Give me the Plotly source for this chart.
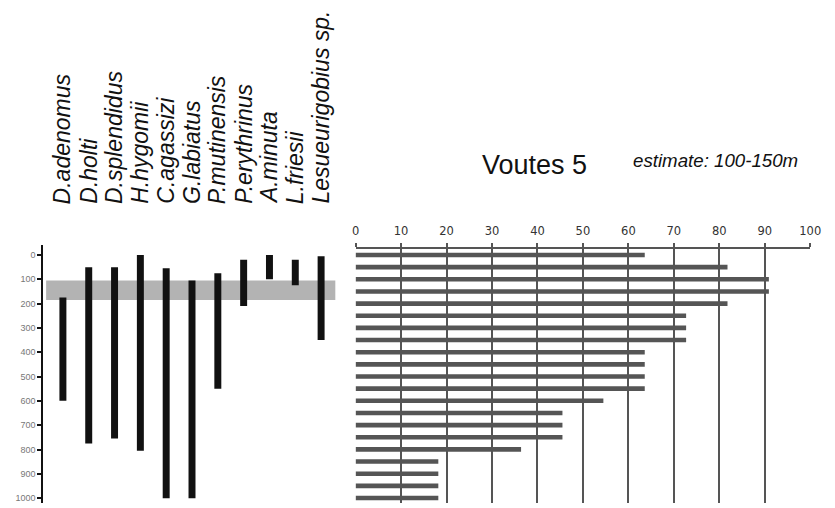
import plotly.graph_objects as go

# ---------------- data ----------------
species = ["D.adenomus", "D.holti", "D.splendidus", "H.hygomii", "C.agassizi",
           "G.labiatus", "P.mutinensis", "P.erythrinus", "A.minuta", "L.friesii",
           "Lesueurigobius sp."]
depth_min = [175, 50, 50, 0, 55, 105, 75, 20, 0, 20, 5]
depth_max = [600, 775, 755, 805, 1000, 1000, 550, 210, 100, 125, 350]

band_min, band_max = 105, 185

depth_bins = [0, 50, 100, 150, 200, 250, 300, 350, 400, 450, 500,
              550, 600, 650, 700, 750, 800, 850, 900, 950, 1000]
percent = [63.6, 81.8, 90.9, 90.9, 81.8, 72.7, 72.7, 72.7, 63.6, 63.6, 63.6,
           63.6, 54.5, 45.5, 45.5, 45.5, 36.4, 18.2, 18.2, 18.2, 18.2]

depth_ticks = [0, 100, 200, 300, 400, 500, 600, 700, 800, 900, 1000]
pct_ticks = [0, 10, 20, 30, 40, 50, 60, 70, 80, 90, 100]

title_text = "Voutes 5"
estimate_text = "estimate: 100-150m"

# ---------------- layout helpers ----------------
W, H = 835, 508
def fx(p):
    return p / W
def fy(p):
    return 1 - p / H

FONT = "Liberation Sans, Arial, sans-serif"

fig = go.Figure()

# left panel: depth ranges of species
fig.add_trace(go.Bar(
    x=list(range(len(species))),
    y=[b - a for a, b in zip(depth_min, depth_max)],
    base=depth_min,
    width=0.27,
    marker=dict(color="#111111", line=dict(width=0)),
    xaxis="x", yaxis="y", showlegend=False, hoverinfo="skip",
))

# right panel: percentage bars
fig.add_trace(go.Bar(
    x=percent, y=depth_bins, orientation="h",
    width=19,
    marker=dict(color="#555555", line=dict(width=0)),
    xaxis="x2", yaxis="y2", showlegend=False, hoverinfo="skip",
))

# gray band (estimate)
fig.add_shape(type="rect", xref="x", yref="y",
              x0=-0.65, x1=10.55, y0=band_min, y1=band_max,
              fillcolor="#b3b3b3", line=dict(width=0), layer="below")

annotations = []
for i, s in enumerate(species):
    annotations.append(dict(
        x=i, xref="x", y=fy(205), yref="paper", text=s, textangle=-90,
        xanchor="center", yanchor="bottom", showarrow=False, borderpad=0,
        font=dict(family=FONT, size=23, color="#111111", style="italic"),
    ))
annotations.append(dict(
    x=fx(540), y=fy(165), xref="paper", yref="paper", text=title_text,
    showarrow=False, xanchor="center", yanchor="middle",
    font=dict(family=FONT, size=27, color="#111111"),
))
annotations.append(dict(
    x=fx(725), y=fy(160), xref="paper", yref="paper", text=estimate_text,
    showarrow=False, xanchor="center", yanchor="middle",
    font=dict(family=FONT, size=18.7, color="#111111", style="italic"),
))

fig.update_layout(
    width=W, height=H,
    margin=dict(l=0, r=0, t=0, b=0),
    paper_bgcolor="white", plot_bgcolor="white",
    barmode="overlay",
    annotations=annotations,
    xaxis=dict(domain=[fx(40), fx(340)], range=[-0.76, 10.65], visible=False,
               anchor="y"),
    yaxis=dict(domain=[fy(503), fy(245)], range=[1020, -41], anchor="x",
               showgrid=False, zeroline=False, showline=True, linecolor="#111111",
               linewidth=2, ticks="outside", ticklen=4, tickwidth=1.5,
               tickcolor="#111111", tickvals=depth_ticks,
               ticktext=[str(t) for t in depth_ticks],
               ticklabeloverflow="allow",
               tickfont=dict(family=FONT, size=9, color="#777777")),
    xaxis2=dict(domain=[fx(358), fx(821)], range=[0, 100], anchor="y2",
                side="top", showgrid=True, gridcolor="#555555", gridwidth=2,
                zeroline=False, showline=True, linecolor="#555555", linewidth=2,
                ticks="outside", ticklen=4, tickwidth=2, tickcolor="#555555",
                tickvals=pct_ticks, ticktext=[str(t) for t in pct_ticks],
                ticklabeloverflow="allow", ticklabelstandoff=3,
                tickfont=dict(family="DejaVu Sans, sans-serif", size=11.5,
                              color="#333333")),
    yaxis2=dict(domain=[fy(503), fy(249)], range=[1020.6, -24.7], anchor="x2",
                visible=False),
)

fig.write_html(
    "out.html",
    config={"displayModeBar": False},
    post_script="document.body.style.margin='0px';"
                "document.body.style.overflow='hidden';"
                "document.documentElement.style.overflow='hidden';",
)
